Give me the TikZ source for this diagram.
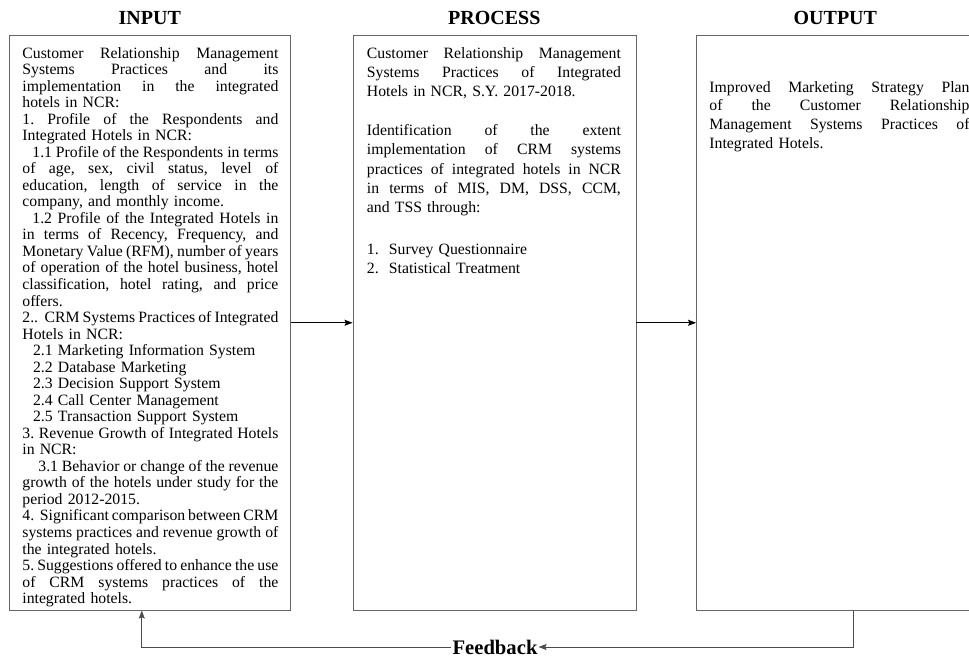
\documentclass[tikz,border=0pt]{standalone}
\usepackage{fontspec}
\setmainfont{Liberation Serif}
\usetikzlibrary{positioning,arrows.meta}

\newcommand{\jline}[1]{\hbox to\hsize{\spaceskip=.25em plus 1fil minus .2em\relax #1}}
\newcommand{\rline}[1]{\hbox{#1}}

\begin{document}
\begin{tikzpicture}[->,>={Stealth[length=6pt,width=4.5pt,inset=1pt]},
                    x=0.75pt,y=-0.75pt,node distance=46.5pt,semithick]
  \tikzstyle{frame}=[draw=black!60,thin,minimum height=431.25pt,inner sep=0pt]
  \tikzstyle{heading}=[font=\fontsize{15}{17}\selectfont\bfseries,inner sep=0pt]
  \tikzstyle{body}=[text width=192pt,inner sep=0pt,
                    font=\fontsize{11.8}{12.4}\selectfont\frenchspacing]
  \tikzstyle{wide body}=[body,font=\fontsize{11.8}{14.4}\selectfont\frenchspacing]
  \tikzstyle{feedback}=[font=\fontsize{15.5}{18}\selectfont\bfseries,inner sep=0.5pt]

  \useasboundingbox (0,0) rectangle (969,658);

  % boxes
  \node[frame,minimum width=210.75pt,anchor=north west] (input) at (9,35) {};
  \node[frame,minimum width=212.25pt] (process) [right=of input]        {};
  \node[frame,minimum width=208.5pt]  (output)  [right=45pt of process] {};

  \node[heading] (intitle)   [above=7.5pt of input]   {INPUT};
  \node[heading] (proctitle) [above=7.5pt of process] {PROCESS};
  \node[heading] (outtitle)  [above=7.5pt of output]  {OUTPUT};

  % input text
  \node[body] (intext) [below right=8.8pt and 9.75pt of input.north west] {%
    \jline{Customer Relationship Management}
    \jline{Systems Practices and its}
    \jline{implementation in the integrated}
    \rline{hotels in NCR:}
    \jline{1. Profile of the Respondents and}
    \rline{Integrated Hotels in NCR:}
    \jline{\hspace*{7.5pt}1.1 Profile of the Respondents in terms}
    \jline{of age, sex, civil status, level of}
    \jline{education, length of service in the}
    \rline{company, and monthly income.}
    \jline{\hspace*{7.5pt}1.2 Profile of the Integrated Hotels in}
    \jline{in terms of Recency, Frequency, and}
    \jline{Monetary Value (RFM), number of years}
    \jline{of operation of the hotel business, hotel}
    \jline{classification, hotel rating, and price}
    \rline{offers.}
    \jline{2..\ \ CRM Systems Practices of Integrated}
    \rline{Hotels in NCR:}
    \rline{\hspace*{8pt}2.1 Marketing Information System}
    \rline{\hspace*{8pt}2.2 Database Marketing}
    \rline{\hspace*{8pt}2.3 Decision Support System}
    \rline{\hspace*{8pt}2.4 Call Center Management}
    \rline{\hspace*{8pt}2.5 Transaction Support System}
    \jline{3. Revenue Growth of Integrated Hotels}
    \rline{in NCR:}
    \jline{\hspace*{12pt}3.1 Behavior or change of the revenue}
    \jline{growth of the hotels under study for the}
    \rline{period 2012-2015.}
    \jline{4.\ \ Significant comparison between CRM}
    \jline{systems practices and revenue growth of}
    \rline{the integrated hotels.}
    \jline{5. Suggestions offered to enhance the use}
    \jline{of CRM systems practices of the}
    \rline{integrated hotels.}};

  % process text
  \node[wide body,text width=190.5pt]
    (proctext) [below right=8.8pt and 10.5pt of process.north west] {%
    \jline{Customer Relationship Management}
    \jline{Systems Practices of Integrated}
    \rline{Hotels in NCR, S.Y. 2017-2018.}
    \vskip 15pt
    \jline{Identification of the extent}
    \jline{implementation of CRM systems}
    \jline{practices of integrated hotels in NCR}
    \jline{in terms of MIS, DM, DSS, CCM,}
    \rline{and TSS through:}
    \vskip 17pt
    \rline{\makebox[16.5pt][l]{1.}Survey Questionnaire}
    \rline{\makebox[16.5pt][l]{2.}Statistical Treatment}};

  % output text
  \node[wide body,text width=195pt,font=\fontsize{11.8}{14}\selectfont\frenchspacing]
    (outtext) [below right=34.5pt and 9.75pt of output.north west] {%
    \jline{Improved Marketing Strategy Plan}
    \jline{of the Customer Relationship}
    \jline{Management Systems Practices of}
    \rline{Integrated Hotels.}};

  % flow
  \draw (input) -- (process);
  \draw (process) -- (output);

  % feedback loop
  \node[feedback] (fb) at (495,647) {Feedback};
  \coordinate (fbout) at ([xshift=13.5pt]output.south);
  \coordinate (fbin)  at ([xshift=-6pt]input.south);
  \draw[black!70] (fbout) |- (fb.east);
  \draw[black!70] (fb.west) -| (fbin);
\end{tikzpicture}
\end{document}
